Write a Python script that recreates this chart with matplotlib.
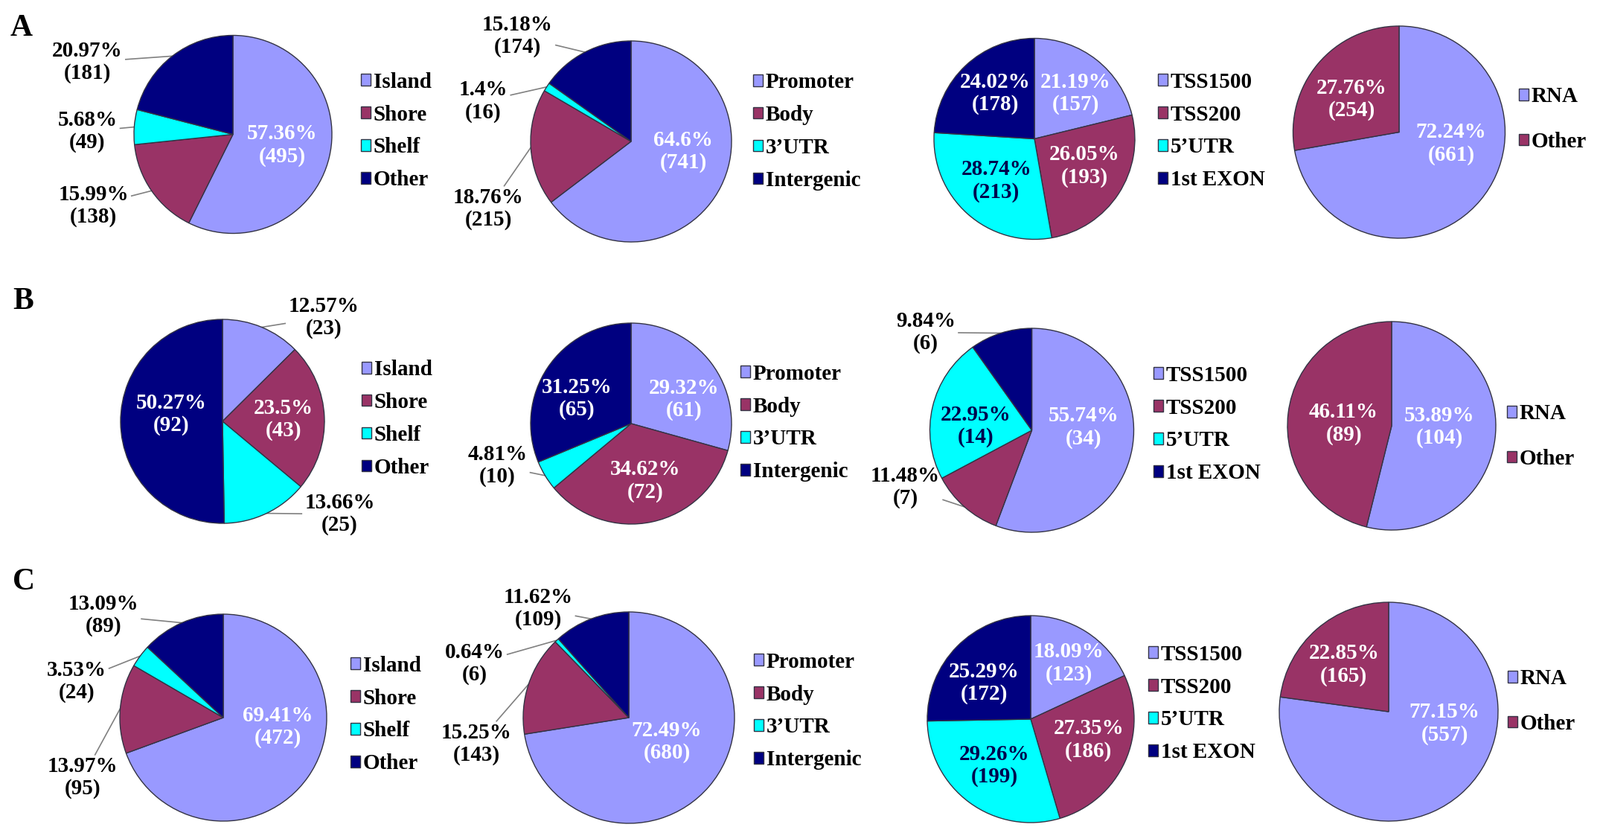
import numpy as np
import matplotlib
matplotlib.use("Agg")
import matplotlib.pyplot as plt

plt.rcParams['font.family'] = ['Liberation Serif', 'DejaVu Serif']
plt.rcParams['font.weight'] = 'bold'

# ---- data ----
island_cats = ['Island', 'Shore', 'Shelf', 'Other']
gene_cats = ['Promoter', 'Body', '3\u2019UTR', 'Intergenic']
tss_cats = ['TSS1500', 'TSS200', '5\u2019UTR', '1st EXON']
rna_cats = ['RNA', 'Other']

a_island_pct = [57.36, 15.99, 5.68, 20.97]
a_island_n = [495, 138, 49, 181]
a_gene_pct = [64.6, 18.76, 1.4, 15.18]
a_gene_n = [741, 215, 16, 174]
a_tss_pct = [21.19, 26.05, 28.74, 24.02]
a_tss_n = [157, 193, 213, 178]
a_rna_pct = [72.24, 27.76]
a_rna_n = [661, 254]

b_island_pct = [12.57, 23.5, 13.66, 50.27]
b_island_n = [23, 43, 25, 92]
b_gene_pct = [29.32, 34.62, 4.81, 31.25]
b_gene_n = [61, 72, 10, 65]
b_tss_pct = [55.74, 11.48, 22.95, 9.84]
b_tss_n = [34, 7, 14, 6]
b_rna_pct = [53.89, 46.11]
b_rna_n = [104, 89]

c_island_pct = [69.41, 13.97, 3.53, 13.09]
c_island_n = [472, 95, 24, 89]
c_gene_pct = [72.49, 15.25, 0.64, 11.62]
c_gene_n = [680, 143, 6, 109]
c_tss_pct = [18.09, 27.35, 29.26, 25.29]
c_tss_n = [123, 186, 199, 172]
c_rna_pct = [77.15, 22.85]
c_rna_n = [557, 165]

colors4 = ['#9999FF', '#993366', '#00FFFF', '#000080']
colors2 = ['#9999FF', '#993366']

# ---- layout, in pixels of the 2150x1123 canvas ----
W, H = 2150, 1123

# pie (cx, cy, r), legend (x, ymid), legend spacing,
# label offsets in pie radii, 1 = label outside with a leader line
panels = [
    (island_cats, a_island_n, a_island_pct, (313, 180.5, 133), (485, 176), 0.58,
     [(0.50, -0.11), (-1.41, -0.72), (-1.47, 0.03), (-1.47, 0.73)], [0, 1, 1, 1]),
    (gene_cats, a_gene_n, a_gene_pct, (848, 190, 135), (1012, 176.5), 0.58,
     [(0.52, -0.10), (-1.42, -0.67), (-1.47, 0.40), (-1.13, 1.05)], [0, 1, 1, 1]),
    (tss_cats, a_tss_n, a_tss_pct, (1390, 186.5, 135), (1556, 176), 0.58,
     [(0.41, 0.45), (0.50, -0.27), (-0.38, -0.42), (-0.39, 0.45)], [0, 0, 0, 0]),
    (rna_cats, a_rna_n, a_rna_pct, (1880, 177.5, 142.5), (2041, 160), 1.15,
     [(0.49, -0.11), (-0.45, 0.31)], [0, 0]),

    (island_cats, b_island_n, b_island_pct, (299, 566, 137), (486, 562.5), 0.58,
     [(0.99, 1.02), (0.60, 0.02), (1.15, -0.91), (-0.50, 0.07)], [1, 0, 1, 0]),
    (gene_cats, b_gene_n, b_gene_pct, (848, 569, 135), (995, 568), 0.58,
     [(0.53, 0.24), (0.14, -0.57), (-1.33, -0.42), (-0.54, 0.25)], [0, 0, 1, 0]),
    (tss_cats, b_tss_n, b_tss_pct, (1386.5, 578, 137), (1550, 570), 0.58,
     [(0.51, 0.03), (-1.24, -0.56), (-0.55, 0.04), (-1.04, 0.96)], [0, 1, 0, 1]),
    (rna_cats, b_rna_n, b_rna_pct, (1870, 572, 140), (2025, 586), 1.15,
     [(0.46, -0.01), (-0.46, 0.02)], [0, 0]),

    (island_cats, c_island_n, c_island_pct, (300, 964, 139), (471, 960), 0.58,
     [(0.53, -0.09), (-1.36, -0.58), (-1.42, 0.35), (-1.16, 0.99)], [0, 1, 1, 1]),
    (gene_cats, c_gene_n, c_gene_pct, (845, 964, 142), (1013, 955), 0.58,
     [(0.36, -0.23), (-1.44, -0.25), (-1.46, 0.51), (-0.86, 1.03)], [0, 1, 1, 1]),
    (tss_cats, c_tss_n, c_tss_pct, (1385, 966, 139), (1543, 945), 0.58,
     [(0.37, 0.54), (0.56, -0.20), (-0.35, -0.45), (-0.45, 0.35)], [0, 0, 0, 0]),
    (rna_cats, c_rna_n, c_rna_pct, (1866, 956, 147), (2026, 942), 1.15,
     [(0.51, -0.11), (-0.41, 0.43)], [0, 0]),
]

letters = [('A', 14, 38), ('B', 17, 405), ('C', 17, 782)]

fig = plt.figure(figsize=(W / 100, H / 100), dpi=100)
fig.patch.set_facecolor('white')
renderer = fig.canvas.get_renderer()

for cats, counts, pcts, geo, leg, spacing, lpos, outer in panels:
    cx, cy, r = geo
    ax = fig.add_axes([(cx - r) / W, 1 - (cy + r) / H, 2 * r / W, 2 * r / H])
    cols = colors4 if len(cats) == 4 else colors2
    wedges, _ = ax.pie(counts, colors=cols, startangle=90, counterclock=False,
                       wedgeprops=dict(edgecolor='#333344', linewidth=1.0))
    ax.set_xlim(-1, 1)
    ax.set_ylim(-1, 1)
    ax.set_aspect('auto')
    ax.axis('off')

    for i, w in enumerate(wedges):
        txt = f"{pcts[i]}%\n({counts[i]})"
        lx, ly = lpos[i]
        if outer[i]:
            t = ax.text(lx, ly, txt, ha='center', va='center', fontsize=21,
                        color='black', linespacing=1.15, clip_on=False)
            # leader: from the rim at the slice middle to the edge of the label box
            mid = np.deg2rad((w.theta1 + w.theta2) / 2)
            rim = ax.transData.transform((np.cos(mid), np.sin(mid)))
            bb = t.get_window_extent(renderer)
            c = np.array([(bb.x0 + bb.x1) / 2, (bb.y0 + bb.y1) / 2])
            d = rim - c
            hw, hh = bb.width / 2 + 4, bb.height / 2 + 2
            s = min(hw / max(abs(d[0]), 1e-6), hh / max(abs(d[1]), 1e-6))
            start = c + s * d
            p0 = ax.transData.inverted().transform(start)
            p1 = ax.transData.inverted().transform(rim)
            ax.plot([p0[0], p1[0]], [p0[1], p1[1]], color='#808080', lw=1.2,
                    clip_on=False, zorder=0)
        else:
            tc = '#00004d' if cols[i] == '#00FFFF' else 'white'
            ax.text(lx, ly, txt, ha='center', va='center', fontsize=21,
                    color=tc, linespacing=1.15)

    lgx, lgy = leg
    ax.legend(wedges, cats, loc='center left',
              bbox_to_anchor=(lgx / W, 1 - lgy / H),
              bbox_transform=fig.transFigure, frameon=False,
              fontsize=21, handlelength=0.45, handleheight=0.45,
              handletextpad=0.12, labelspacing=spacing, borderpad=0,
              borderaxespad=0)

for letter, x, y in letters:
    fig.text(x / W, 1 - y / H, letter, fontsize=30, fontweight='bold',
             ha='left', va='center')

fig.savefig('out.png', dpi=100, facecolor='white')
